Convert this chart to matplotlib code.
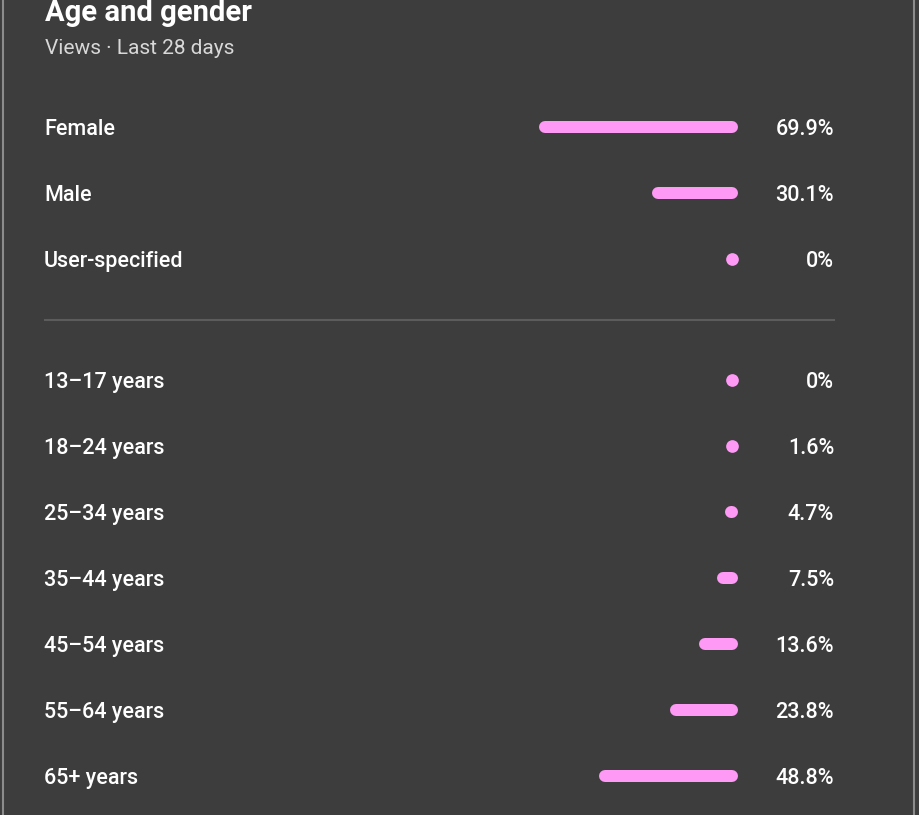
import matplotlib
matplotlib.use('Agg')
import matplotlib.pyplot as plt

# data
gender_labels = ['Female', 'Male', 'User-specified']
gender_values = [69.9, 30.1, 0.0]
gender_text   = ['69.9%', '30.1%', '0%']

age_labels = ['13–17 years', '18–24 years', '25–34 years', '35–44 years',
              '45–54 years', '55–64 years', '65+ years']
age_values = [0.0, 1.6, 4.7, 7.5, 13.6, 23.8, 48.8]
age_text   = ['0%', '1.6%', '4.7%', '7.5%', '13.6%', '23.8%', '48.8%']

W, H = 919, 815
BG     = '#3d3d3d'
PINK   = '#ff99f6'
BAR_PX = 12          # bar thickness in px
SCALE  = 2.85        # px per percent
BAR_END = 738        # right edge of bars
LEFT, RIGHT = 45, 834
ROW = 66
FS = 15.5

plt.rcParams['font.family'] = ['Roboto', 'DejaVu Sans']

fig = plt.figure(figsize=(W / 100, H / 100), dpi=100, facecolor=BG)
ax = fig.add_axes([0, 0, 1, 1])
ax.set_facecolor(BG)
ax.set_xlim(0, W)
ax.set_ylim(H, 0)
ax.axis('off')

lw = BAR_PX * 72 / 100   # px -> points


def draw_rows(labels, values, texts, y0):
    for i, (lab, v, t) in enumerate(zip(labels, values, texts)):
        y = y0 + i * ROW
        ax.text(LEFT - 1, y, lab, color='white', fontsize=FS, fontweight='medium',
                va='center_baseline', ha='left')
        ax.text(RIGHT, y, t, color='white', fontsize=FS, fontweight='medium',
                va='center_baseline', ha='right')
        x1 = BAR_END - BAR_PX / 2
        length = v * SCALE - BAR_PX
        if length < 1:
            # too small for a bar: just the round dot
            ax.plot([x1], [y], 'o', color=PINK, markersize=lw + 0.5, mew=0)
        else:
            ax.plot([x1 - length, x1], [y, y], color=PINK, lw=lw,
                    solid_capstyle='round')


ax.text(LEFT, 21, 'Age and gender', color='white', fontsize=21,
        fontweight='bold', ha='left', va='baseline')
ax.text(LEFT, 54, 'Views · Last 28 days', color='#d8d8d8', fontsize=15,
        ha='left', va='baseline')

draw_rows(gender_labels, gender_values, gender_text, 127)
ax.plot([LEFT, RIGHT], [320, 320], color='#5c5c5c', lw=1.5)
draw_rows(age_labels, age_values, age_text, 380)

# card borders
ax.plot([2.5, 2.5], [0, H], color='#8c8c8c', lw=1.5)
ax.plot([913.5, 913.5], [0, H], color='#8c8c8c', lw=1.5)

fig.savefig('out.png', dpi=100, facecolor=BG)
